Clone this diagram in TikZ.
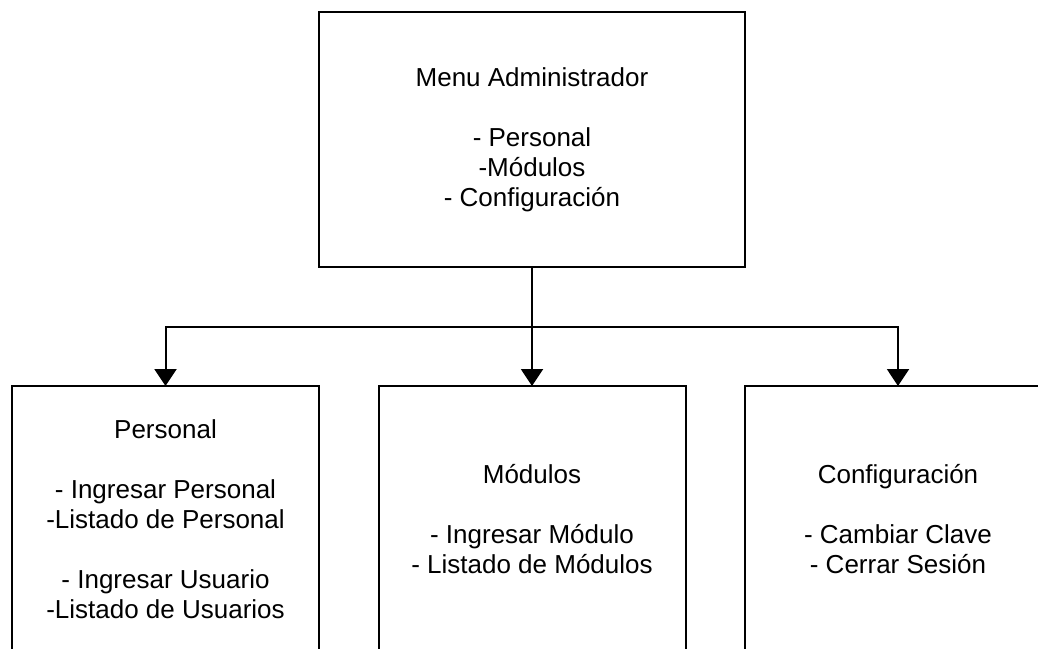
\documentclass[tikz,border=0pt]{standalone}
\usepackage{fontspec}
\setmainfont{Liberation Sans}
\usepackage{tikz}
\usetikzlibrary{arrows.meta,positioning}

\tikzset{
  menubox/.style={draw, line width=1pt, inner sep=0pt, outer sep=0pt, align=center,
    font=\fontsize{13}{15}\selectfont},
  arrowline/.style={line width=1pt, -{Triangle[width=11pt,length=8.5pt]}}
}

\begin{document}
\begin{tikzpicture}[x=0.5pt,y=-0.5pt]
\useasboundingbox (0,0) rectangle (1038,648);
\clip (0,0) rectangle (1038,648);
\node[menubox, minimum width=213pt, minimum height=127.5pt] (menu) at (532,139.5)
  {Menu Administrador\\~\\- Personal\\-Módulos\\- Configuración};
\node[menubox, minimum width=153.5pt, minimum height=133pt] (personal) at (165.5,519)
  {Personal\\~\\- Ingresar Personal\\-Listado de Personal\\~\\- Ingresar Usuario\\-Listado de Usuarios};
\node[menubox, minimum width=153.5pt, minimum height=133pt] (modulos) at (532,519)
  {Módulos\\~\\- Ingresar Módulo\\- Listado de Módulos};
\node[menubox, minimum width=153.5pt, minimum height=133pt] (config) at (898,519)
  {Configuración\\~\\- Cambiar Clave\\- Cerrar Sesión};
\coordinate (split) at (532,327);
\draw[arrowline] (menu.south) -- (modulos.north);
\draw[arrowline] (split) -| (personal.north);
\draw[arrowline] (split) -| (config.north);
\end{tikzpicture}
\end{document}
